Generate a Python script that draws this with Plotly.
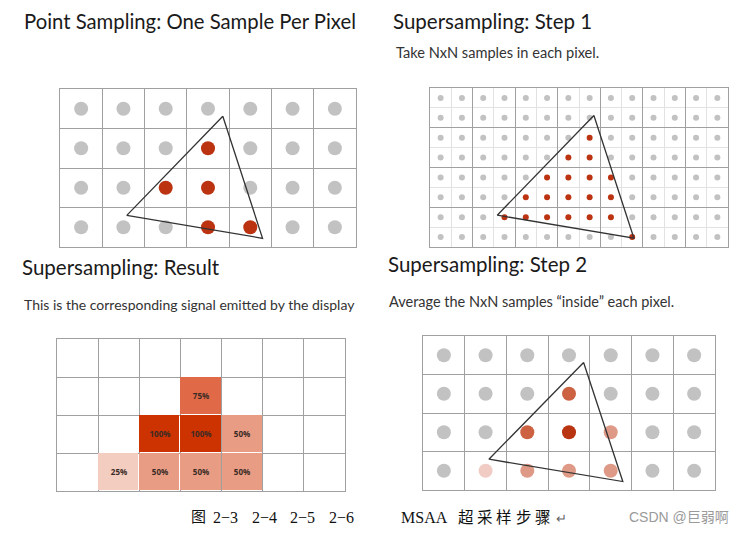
import plotly.graph_objects as go

OFF = 8                      # default page margin of the html body
W, H = 742 - 2 * OFF, 534 - 2 * OFF
N_COLS, N_ROWS = 7, 4

# triangle vertices in pixel-grid units (x right, y down)
tri_x = [3.85, 1.58, 4.79, 3.85]
tri_y = [0.69, 3.20, 3.78, 0.69]

# Panel 1: point sampling - covered pixel centers (row, col)
point_red = [(1, 3), (2, 2), (2, 3), (3, 3), (3, 4)]

# Panel 2: 2x2 supersamples covered (sub_row, sub_col) on 8x14 sub-grid
ss_red = [(2, 7), (3, 6), (3, 7),
          (4, 5), (4, 6), (4, 7), (4, 8),
          (5, 4), (5, 5), (5, 6), (5, 7), (5, 8),
          (6, 3), (6, 4), (6, 5), (6, 6), (6, 7), (6, 8),
          (7, 9)]

# Panel 3: result coverage percentages (row, col, pct)
result_cov = [(1, 3, 75), (2, 2, 100), (2, 3, 100), (2, 4, 50),
              (3, 1, 25), (3, 2, 50), (3, 3, 50), (3, 4, 50)]

# Panel 4: averaged sample colours (row, col, pct)
step2_cov = [(1, 3, 75), (2, 2, 75), (2, 3, 100), (2, 4, 50),
             (3, 1, 25), (3, 2, 50), (3, 3, 50), (3, 4, 50)]

# caption pieces
fig_labels = ["2\u22123", "2\u22124", "2\u22125", "2\u22126"]

cell_colors = {25: "#F3CDC0", 50: "#E89C84", 75: "#E06A48", 100: "#CC3300"}
dot_colors = {25: "#F0CCC4", 50: "#DE9A86", 75: "#CD6242", 100: "#B93410"}
GRAY = "#C2C2C2"
RED = "#BB3311"
GRID = "#A0A0A0"

# panel pixel boxes in the screenshot: (x0, x1, y0, y1)
boxes = [(60, 356, 89, 247), (430, 728, 88, 247), (57, 345, 339, 491), (423, 715, 336, 490)]


def px_x(p):
    return (p - OFF) / W


def px_y(p):
    return 1 - (p - OFF) / H


fig = go.Figure()


def ax_names(i):
    return ("x" if i == 0 else f"x{i+1}", "y" if i == 0 else f"y{i+1}")


# ---------- Panel 1 ----------
xa, ya = ax_names(0)
gx, gy, rx, ry = [], [], [], []
for r in range(N_ROWS):
    for c in range(N_COLS):
        if (r, c) in point_red:
            rx.append(c + 0.5); ry.append(r + 0.5)
        else:
            gx.append(c + 0.5); gy.append(r + 0.5)
fig.add_trace(go.Scatter(x=gx, y=gy, mode="markers", marker=dict(size=14, color=GRAY),
                         xaxis=xa, yaxis=ya, hoverinfo="skip"))
fig.add_trace(go.Scatter(x=rx, y=ry, mode="markers", marker=dict(size=14, color=RED),
                         xaxis=xa, yaxis=ya, hoverinfo="skip"))
fig.add_trace(go.Scatter(x=tri_x, y=tri_y, mode="lines", line=dict(color="#333", width=1.3),
                         xaxis=xa, yaxis=ya, hoverinfo="skip"))

# ---------- Panel 2 ----------
xa, ya = ax_names(1)
gx, gy, rx, ry = [], [], [], []
for r in range(N_ROWS * 2):
    for c in range(N_COLS * 2):
        if (r, c) in ss_red:
            rx.append(c * 0.5 + 0.25); ry.append(r * 0.5 + 0.25)
        else:
            gx.append(c * 0.5 + 0.25); gy.append(r * 0.5 + 0.25)
fig.add_trace(go.Scatter(x=gx, y=gy, mode="markers", marker=dict(size=6, color=GRAY),
                         xaxis=xa, yaxis=ya, hoverinfo="skip"))
fig.add_trace(go.Scatter(x=rx, y=ry, mode="markers", marker=dict(size=6, color=RED),
                         xaxis=xa, yaxis=ya, hoverinfo="skip"))
fig.add_trace(go.Scatter(x=tri_x, y=tri_y, mode="lines", line=dict(color="#333", width=1.3),
                         xaxis=xa, yaxis=ya, hoverinfo="skip"))

# ---------- Panel 3 ----------
xa, ya = ax_names(2)
z = [[None] * N_COLS for _ in range(N_ROWS)]
txt = [[""] * N_COLS for _ in range(N_ROWS)]
for r, c, p in result_cov:
    z[r][c] = p
    txt[r][c] = f"<b>{p}%</b>"
fig.add_trace(go.Heatmap(
    z=z, x=[c + 0.5 for c in range(N_COLS)], y=[r + 0.5 for r in range(N_ROWS)],
    zmin=0, zmax=100, text=txt, texttemplate="%{text}",
    colorscale=[[0, "#FFFFFF"], [0.25, cell_colors[25]], [0.5, cell_colors[50]],
                [0.75, cell_colors[75]], [1, cell_colors[100]]],
    showscale=False, xgap=1, ygap=1,
    textfont=dict(size=8, color="#3a2a25", family="Open Sans"),
    xaxis=xa, yaxis=ya, hoverinfo="skip"))

# ---------- Panel 4 ----------
xa, ya = ax_names(3)
lookup = {(r, c): p for r, c, p in step2_cov}
gx, gy = [], []
cx, cy, cc = [], [], []
for r in range(N_ROWS):
    for c in range(N_COLS):
        if (r, c) in lookup:
            cx.append(c + 0.5); cy.append(r + 0.5); cc.append(dot_colors[lookup[(r, c)]])
        else:
            gx.append(c + 0.5); gy.append(r + 0.5)
fig.add_trace(go.Scatter(x=gx, y=gy, mode="markers", marker=dict(size=14, color=GRAY),
                         xaxis=xa, yaxis=ya, hoverinfo="skip"))
fig.add_trace(go.Scatter(x=cx, y=cy, mode="markers", marker=dict(size=14, color=cc),
                         xaxis=xa, yaxis=ya, hoverinfo="skip"))
fig.add_trace(go.Scatter(x=tri_x, y=tri_y, mode="lines", line=dict(color="#333", width=1.3),
                         xaxis=xa, yaxis=ya, hoverinfo="skip"))

# ---------- axes ----------
layout = dict(width=W, height=H, margin=dict(l=0, r=0, t=0, b=0),
              paper_bgcolor="white", plot_bgcolor="white", showlegend=False)
for i, (x0, x1, y0, y1) in enumerate(boxes):
    sx = "" if i == 0 else str(i + 1)
    xa_d = dict(domain=[px_x(x0), px_x(x1)], range=[0, N_COLS], dtick=1, tick0=0,
                showgrid=True, gridcolor=GRID, gridwidth=1, zeroline=False,
                showticklabels=False, ticks="", showline=True, mirror=True,
                linecolor=GRID, linewidth=1, fixedrange=True,
                anchor="y" + sx)
    ya_d = dict(domain=[px_y(y1), px_y(y0)], range=[N_ROWS, 0], dtick=1, tick0=0,
                showgrid=True, gridcolor=GRID, gridwidth=1, zeroline=False,
                showticklabels=False, ticks="", showline=True, mirror=True,
                linecolor=GRID, linewidth=1, fixedrange=True,
                anchor="x" + sx)
    if i == 1:
        xa_d["minor"] = dict(dtick=0.5, tick0=0, showgrid=True, gridcolor="#E2E2E2", gridwidth=1)
        ya_d["minor"] = dict(dtick=0.5, tick0=0, showgrid=True, gridcolor="#E2E2E2", gridwidth=1)
    layout["xaxis" + sx] = xa_d
    layout["yaxis" + sx] = ya_d
fig.update_layout(**layout)

# ---------- texts ----------
SERIF = "Liberation Serif, Noto Sans CJK SC"

# top titles: anchored to the top edge so nothing is clipped
for t, px, sz in [("Point Sampling: One Sample Per Pixel", 23, 20.3),
                  ("Supersampling: Step 1", 392, 20.5)]:
    fig.add_annotation(text=t, x=px_x(px), y=1, xref="paper", yref="paper",
                       xanchor="left", yanchor="top", showarrow=False, borderpad=0,
                       font=dict(size=sz, color="#1a1a1a", family="Lato"))

texts = [
    ("Take NxN samples in each pixel.", 394, 52, 14.6, "#333", "Lato"),
    ("Supersampling: Result", 20, 267, 20.5, "#1a1a1a", "Lato"),
    ("This is the corresponding signal emitted by the display", 22, 304, 14, "#333", "Lato"),
    ("Supersampling: Step 2", 386, 264, 20.5, "#1a1a1a", "Lato"),
    ("Average the NxN samples \u201cinside\u201d each pixel.", 387, 301, 14.5, "#333", "Lato"),
    ("图", 189, 517, 15, "#111", SERIF),
    ("MSAA", 399, 517, 16, "#111", SERIF),
    ("\u21b5", 554, 518, 13, "#666", SERIF),
    ("CSDN @巨弱啊", 627, 517, 14, "#9a9a9a", "Liberation Sans, Noto Sans CJK SC"),
]
for k, lab in enumerate(fig_labels):
    texts.append((lab, 211 + k * 38.5, 517, 16, "#111", SERIF))
# CJK word laid out with the wider character pitch of the original document
for k, ch in enumerate("超采样步骤"):
    texts.append((ch, 456 + k * 19.2, 517, 15.5, "#111", SERIF))

for t, px, py, sz, col, fam in texts:
    fig.add_annotation(text=t, x=px_x(px), y=px_y(py), xref="paper", yref="paper",
                       xanchor="left", yanchor="middle", showarrow=False,
                       font=dict(size=sz, color=col, family=fam))

fig.write_html("out.html")
